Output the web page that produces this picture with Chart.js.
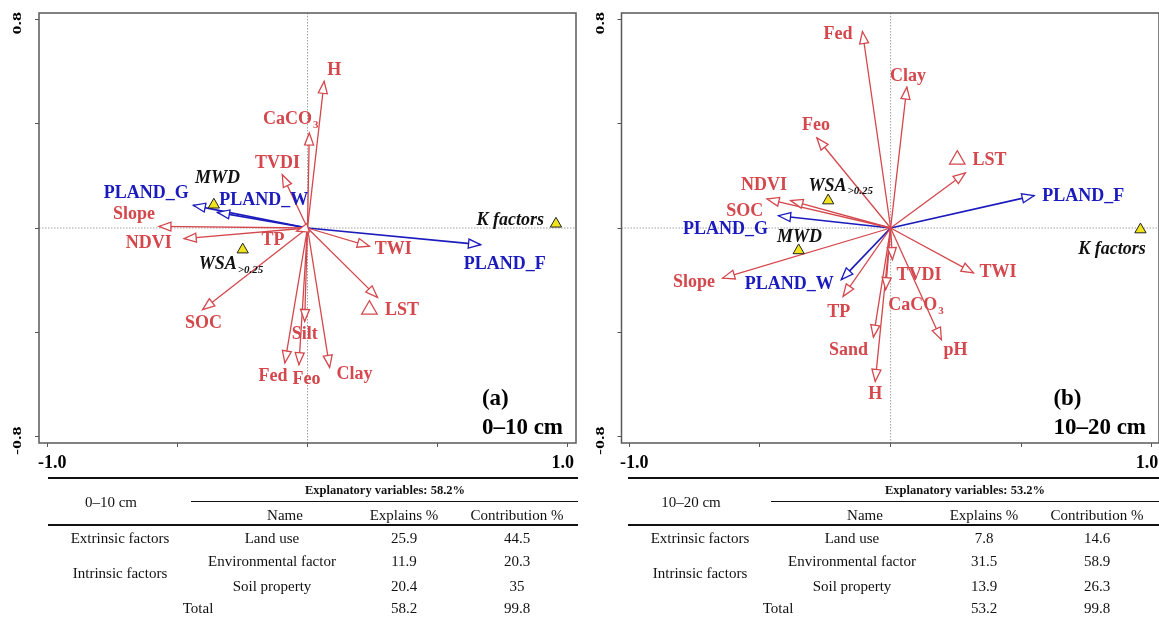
<!DOCTYPE html>
<html>
<head>
<meta charset="utf-8">
<script src="https://cdn.jsdelivr.net/npm/chart.js@4.4.1/dist/chart.umd.min.js"></script>
<style>
body { margin: 0; background: #fff; width: 1159px; height: 617px; overflow: hidden; position: relative; font-family: "Liberation Serif", serif; }
#ca { position: absolute; left: 0; top: 0; }
#cb { position: absolute; left: 580px; top: 0; }
.tbl { position: absolute; top: 470px; height: 147px; }
.t { position: absolute; white-space: nowrap; transform: translate(-50%, -50%); font-size: 15px; color: #111; }
.hd { font-weight: bold; font-size: 12.5px; }
.rule { position: absolute; background: #111; }
</style>
</head>
<body>
<canvas id="ca" width="580" height="475"></canvas>
<canvas id="cb" width="579" height="475"></canvas>
<div class="tbl" id="ta" style="left:48px;width:530px"></div>
<div class="tbl" id="tb" style="left:628px;width:531px"></div>
<script>
// axis ticks
var xTicks = [-1, -0.5, 0, 0.5, 1];
var yTicks = [-0.8, -0.4, 0, 0.4, 0.8];

// (a) 0-10 cm
var soilNamesA = ['H', 'CaCO3', 'TVDI', 'Slope', 'NDVI', 'TP', 'TWI', 'LST', 'SOC', 'Silt', 'Fed', 'Feo', 'Clay'];
var soilXA = [0.064, 0.007, -0.097, -0.571, -0.474, -0.042, 0.238, 0.269, -0.403, -0.011, -0.087, -0.033, 0.085];
var soilYA = [0.562, 0.364, 0.204, 0.006, -0.041, -0.012, -0.070, -0.266, -0.313, -0.358, -0.517, -0.524, -0.534];
var landNames = ['PLAND_G', 'PLAND_W', 'PLAND_F'];
var landXA = [-0.439, -0.346, 0.665];
var landYA = [0.087, 0.060, -0.064];
var respNames = ['MWD', 'WSA>0.25', 'K factors'];
var respXA = [-0.360, -0.249, 0.955];
var respYA = [0.089, -0.083, 0.016];
var lstMarkA = [0.238, -0.313];

// (b) 10-20 cm
var soilNamesB = ['Fed', 'Clay', 'Feo', 'LST', 'NDVI', 'SOC', 'Slope', 'TP', 'TVDI', 'CaCO3', 'Sand', 'H', 'pH', 'TWI'];
var soilXB = [-0.108, 0.062, -0.282, 0.286, -0.473, -0.382, -0.643, -0.182, 0.007, -0.019, -0.066, -0.059, 0.194, 0.317];
var soilYB = [0.753, 0.540, 0.345, 0.211, 0.111, 0.105, -0.192, -0.262, -0.121, -0.236, -0.418, -0.588, -0.428, -0.172];
var landXB = [-0.429, -0.189, 0.549];
var landYB = [0.047, -0.198, 0.124];
var respXB = [-0.352, -0.239, 0.956];
var respYB = [-0.086, 0.105, -0.006];
var lstMarkB = [0.255, 0.262];

// tables
var groupNames = ['Extrinsic factors', 'Intrinsic factors'];
var factorNames = ['Land use', 'Environmental factor', 'Soil property'];
var explainsA = ['25.9', '11.9', '20.4'];
var contribA = ['44.5', '20.3', '35'];
var totalA = ['58.2', '99.8'];
var explainsB = ['7.8', '31.5', '13.9'];
var contribB = ['14.6', '58.9', '26.3'];
var totalB = ['53.2', '99.8'];

// where the labels sit (data units)
var labelPosA = {
    H: [0.103, 0.606], CaCO3: [-0.066, 0.415], TVDI: [-0.115, 0.249], Slope: [-0.667, 0.051],
    NDVI: [-0.610, -0.060], TP: [-0.133, -0.047], TWI: [0.330, -0.083], LST: [0.363, -0.317],
    SOC: [-0.400, -0.367], Silt: [-0.011, -0.406], Fed: [-0.133, -0.569], Feo: [-0.004, -0.581],
    Clay: [0.181, -0.562], PLAND_G: [-0.620, 0.131], PLAND_W: [-0.168, 0.106], PLAND_F: [0.758, -0.141],
    MWD: [-0.346, 0.189], 'WSA>0.25': [-0.296, -0.141], 'K factors': [0.779, 0.029]
};
var labelPosB = {
    Fed: [-0.201, 0.743], Clay: [0.066, 0.583], Feo: [-0.286, 0.392], LST: [0.378, 0.258],
    NDVI: [-0.485, 0.162], SOC: [-0.558, 0.064], Slope: [-0.753, -0.207], TP: [-0.199, -0.322],
    TVDI: [0.109, -0.183], CaCO3: [0.095, -0.298], Sand: [-0.161, -0.470], H: [-0.059, -0.639],
    pH: [0.248, -0.470], TWI: [0.411, -0.170], PLAND_G: [-0.632, -0.004], PLAND_W: [-0.388, -0.217],
    PLAND_F: [0.737, 0.121], MWD: [-0.349, -0.035], 'WSA>0.25': [-0.193, 0.159], 'K factors': [0.847, -0.081]
};

var RED = '#d4474c';
var BLUE = '#1b1bbd';
var FONT = '"Liberation Serif", "Times New Roman", serif';
var subs = { CaCO3: ['CaCO', '3'], 'WSA>0.25': ['WSA', '>0.25'] };

function vectors(names, xs, ys, color, w) {
    return names.map(function (n, i) {
        return {
            label: n, data: [{ x: 0, y: 0 }, { x: xs[i], y: ys[i] }], showLine: true,
            borderColor: color, borderWidth: w, pointRadius: 0, pointHoverRadius: 0, arrow: true, order: 3
        };
    });
}

function drawLabel(ctx, text, x, y, color, italic) {
    var st = italic ? 'italic bold ' : 'bold ';
    ctx.fillStyle = color;
    ctx.textBaseline = 'middle';
    if (subs[text]) {
        var p = subs[text];
        ctx.font = st + '18px ' + FONT;
        var w1 = ctx.measureText(p[0]).width;
        ctx.font = st + '11px ' + FONT;
        var w2 = ctx.measureText(p[1]).width;
        var left = x - (w1 + w2) / 2;
        ctx.textAlign = 'left';
        ctx.font = st + '18px ' + FONT;
        ctx.fillText(p[0], left, y);
        ctx.font = st + '11px ' + FONT;
        ctx.fillText(p[1], left + w1 + 1, y + 5);
    } else {
        ctx.font = st + '18px ' + FONT;
        ctx.textAlign = 'center';
        ctx.fillText(text, x, y);
    }
}

function makePlugin(p) {
    return {
        id: 'biplot',
        beforeDatasetsDraw: function (chart) {
            var ctx = chart.ctx, a = chart.chartArea, xs = chart.scales.x, ys = chart.scales.y;
            ctx.save();
            ctx.strokeStyle = '#a0a0a0';
            ctx.lineWidth = 1;
            ctx.setLineDash([1.5, 1.5]);
            var x0 = xs.getPixelForValue(0), y0 = ys.getPixelForValue(0);
            ctx.beginPath();
            ctx.moveTo(x0, a.top); ctx.lineTo(x0, a.bottom);
            ctx.moveTo(a.left, y0); ctx.lineTo(a.right, y0);
            ctx.stroke();
            ctx.setLineDash([]);
            ctx.strokeStyle = '#5a5a5a';
            ctx.lineWidth = 1.5;
            ctx.strokeRect(a.left, a.top, a.right - a.left, a.bottom - a.top);
            ctx.font = 'bold 18px ' + FONT;
            ctx.fillStyle = '#000';
            ctx.textAlign = 'center';
            ctx.textBaseline = 'middle';
            // x labels at the ends only
            [-1, 1].forEach(function (v) {
                ctx.fillText(v.toFixed(1), xs.getPixelForValue(v) + (v < 0 ? 5 : -5), a.bottom + 20);
            });
            // rotated y labels, only the outer ones
            [0.8, -0.8].forEach(function (v) {
                ctx.save();
                ctx.translate(a.left - 21, ys.getPixelForValue(v) + 4);
                ctx.rotate(-Math.PI / 2);
                ctx.scale(1, 0.7);
                ctx.fillText(v.toFixed(1), 0, 0);
                ctx.restore();
            });
            ctx.restore();
        },
        afterDatasetsDraw: function (chart) {
            var ctx = chart.ctx, a = chart.chartArea, xs = chart.scales.x, ys = chart.scales.y;
            ctx.save();
            // open arrow heads
            chart.data.datasets.forEach(function (ds, i) {
                if (!ds.arrow) return;
                var m = chart.getDatasetMeta(i).data;
                var ang = Math.atan2(m[1].y - m[0].y, m[1].x - m[0].x);
                var L = 12, H = 4.5;
                var bx = m[1].x - L * Math.cos(ang), by = m[1].y - L * Math.sin(ang);
                ctx.beginPath();
                ctx.moveTo(m[1].x, m[1].y);
                ctx.lineTo(bx + H * Math.sin(ang), by - H * Math.cos(ang));
                ctx.lineTo(bx - H * Math.sin(ang), by + H * Math.cos(ang));
                ctx.closePath();
                ctx.fillStyle = '#fff';
                ctx.fill();
                ctx.strokeStyle = ds.borderColor;
                ctx.lineWidth = 1.3;
                ctx.stroke();
            });
            // labels
            p.soilNames.forEach(function (n) {
                var q = p.labelPos[n];
                drawLabel(ctx, n, xs.getPixelForValue(q[0]), ys.getPixelForValue(q[1]), RED, false);
            });
            landNames.forEach(function (n) {
                var q = p.labelPos[n];
                drawLabel(ctx, n, xs.getPixelForValue(q[0]), ys.getPixelForValue(q[1]), BLUE, false);
            });
            respNames.forEach(function (n) {
                var q = p.labelPos[n];
                drawLabel(ctx, n, xs.getPixelForValue(q[0]), ys.getPixelForValue(q[1]), '#111', true);
            });
            // panel tag and depth
            ctx.font = 'bold 23px ' + FONT;
            ctx.fillStyle = '#000';
            ctx.textBaseline = 'alphabetic';
            ctx.textAlign = 'left';
            var w = ctx.measureText(p.depth).width;
            var lx = a.right - 13 - w;
            ctx.fillText(p.tag, lx, a.bottom - 38);
            ctx.fillText(p.depth, lx, a.bottom - 9);
            ctx.restore();
        }
    };
}

function makePanel(id, p) {
    var datasets = []
        .concat(vectors(p.soilNames, p.soilX, p.soilY, RED, 1.3))
        .concat(vectors(landNames, p.landX, p.landY, BLUE, 1.7));
    datasets.push({
        label: 'LST marker', data: [{ x: p.lstMark[0], y: p.lstMark[1] }], pointStyle: 'triangle',
        pointRadius: 9, backgroundColor: '#fff', borderColor: RED, borderWidth: 1.2, order: 2
    });
    datasets.push({
        label: 'responses', data: respNames.map(function (n, i) { return { x: p.respX[i], y: p.respY[i] }; }),
        pointStyle: 'triangle', pointRadius: 6.5, backgroundColor: '#f1e41c', borderColor: '#222', borderWidth: 1, order: 1
    });
    return new Chart(document.getElementById(id), {
        type: 'scatter',
        data: { datasets: datasets },
        options: {
            responsive: false,
            animation: false,
            layout: { autoPadding: false, padding: { top: 13, right: p.padRight, left: 0, bottom: 0 } },
            plugins: { legend: { display: false }, tooltip: { enabled: false } },
            scales: {
                x: {
                    type: 'linear', min: p.xMin, max: p.xMax,
                    afterBuildTicks: function (s) { s.ticks = xTicks.map(function (v) { return { value: v }; }); },
                    ticks: { display: false },
                    grid: { drawOnChartArea: false, tickLength: 4, tickColor: '#555' },
                    border: { display: false },
                    afterFit: function (s) { s.height = 32; s.paddingLeft = 0; s.paddingRight = 0; }
                },
                y: {
                    type: 'linear', min: -0.824, max: 0.824,
                    afterBuildTicks: function (s) { s.ticks = yTicks.map(function (v) { return { value: v }; }); },
                    ticks: { display: false },
                    grid: { drawOnChartArea: false, tickLength: 4, tickColor: '#555' },
                    border: { display: false },
                    afterFit: function (s) { s.width = p.leftW; s.paddingTop = 0; s.paddingBottom = 0; }
                }
            }
        },
        plugins: [makePlugin(p)]
    });
}

makePanel('ca', {
    soilNames: soilNamesA, soilX: soilXA, soilY: soilYA, landX: landXA, landY: landYA,
    respX: respXA, respY: respYA, lstMark: lstMarkA, labelPos: labelPosA,
    tag: '(a)', depth: '0\u201310 cm', xMin: -1.032, xMax: 1.032, leftW: 39, padRight: 4
});
makePanel('cb', {
    soilNames: soilNamesB, soilX: soilXB, soilY: soilYB, landX: landXB, landY: landYB,
    respX: respXB, respY: respYB, lstMark: lstMarkB, labelPos: labelPosB,
    tag: '(b)', depth: '10\u201320 cm', xMin: -1.03, xMax: 1.027, leftW: 41.5, padRight: 0
});

// tables under the plots
function addText(box, txt, x, y, cls) {
    var d = document.createElement('div');
    d.className = 't' + (cls ? ' ' + cls : '');
    d.style.left = x + 'px';
    d.style.top = y + 'px';
    d.textContent = txt;
    box.appendChild(d);
}
function addRule(box, x, y, w, h) {
    var d = document.createElement('div');
    d.className = 'rule';
    d.style.left = x + 'px'; d.style.top = y + 'px';
    d.style.width = w + 'px'; d.style.height = h + 'px';
    box.appendChild(d);
}
function makeTable(id, depth, explains, contrib, total) {
    var box = document.getElementById(id);
    var W = box.offsetWidth;
    addRule(box, 0, 7, W, 2);
    addRule(box, 143, 31, W - 143, 1);
    addRule(box, 0, 54, W, 2);
    addText(box, 'Explanatory variables: ' + total[0] + '%', 337, 20, 'hd');
    addText(box, depth, 63, 32);
    addText(box, 'Name', 237, 45);
    addText(box, 'Explains %', 356, 45);
    addText(box, 'Contribution %', 469, 45);
    addText(box, groupNames[0], 72, 68);
    addText(box, groupNames[1], 72, 103);
    var ry = [68, 91, 115.5];
    factorNames.forEach(function (n, i) {
        addText(box, n, 224, ry[i]);
        addText(box, explains[i], 356, ry[i]);
        addText(box, contrib[i], 469, ry[i]);
    });
    addText(box, 'Total', 150, 138);
    addText(box, total[0], 356, 138);
    addText(box, total[1], 469, 138);
}
makeTable('ta', '0\u201310 cm', explainsA, contribA, totalA);
makeTable('tb', '10\u201320 cm', explainsB, contribB, totalB);
</script>
</body>
</html>
